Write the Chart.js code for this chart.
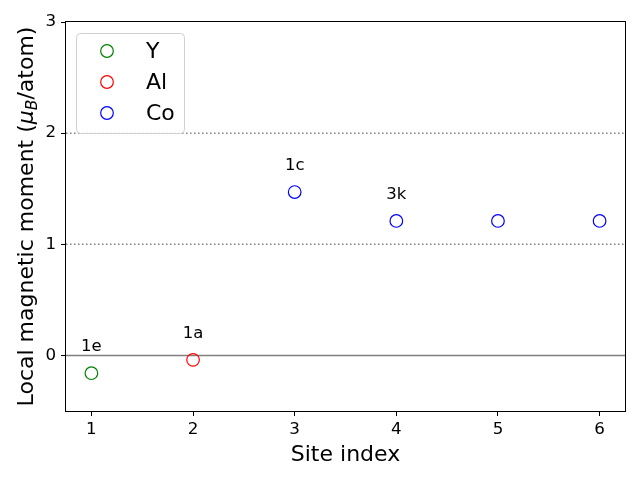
<!DOCTYPE html>
<html>
<head>
<meta charset="utf-8">
<script src="https://cdn.jsdelivr.net/npm/chart.js@4/dist/chart.umd.min.js"></script>
<style>
html,body{margin:0;padding:0;background:#fff;}
canvas{display:block;}
</style>
</head>
<body>
<canvas id="c" width="640" height="480"></canvas>
<script>
// ---- data ----
const siteIndex = [1, 2, 3, 4, 5, 6];
const moments = [-0.16, -0.04, 1.47, 1.21, 1.21, 1.21];
const species = ['Y', 'Al', 'Co', 'Co', 'Co', 'Co'];
const speciesNames = ['Y', 'Al', 'Co'];
const speciesColors = ['green', 'red', 'blue'];
const wyckoffSites = [1, 2, 3, 4];
const wyckoffLabels = ['1e', '1a', '1c', '3k'];
const xTicks = [1, 2, 3, 4, 5, 6];
const yTicks = [0, 1, 2, 3];
const dottedRefs = [1, 2];
const solidRef = 0;

const FONT = 'DejaVu Sans';

const datasets = speciesNames.map((name, k) => ({
  label: name,
  data: siteIndex.map((x, i) => ({x: x, y: moments[i], s: species[i]}))
                 .filter(p => p.s === name)
                 .map(p => ({x: p.x, y: p.y})),
  showLine: false,
  pointStyle: 'circle',
  pointRadius: 6.3,
  pointHoverRadius: 6.3,
  pointBorderWidth: 1.2,
  pointBackgroundColor: 'rgba(0,0,0,0)',
  pointBorderColor: speciesColors[k],
  borderColor: speciesColors[k],
  backgroundColor: 'rgba(0,0,0,0)'
}));

const refLines = {
  id: 'refLines',
  beforeDatasetsDraw(chart) {
    const ctx = chart.ctx, a = chart.chartArea, ys = chart.scales.y;
    ctx.save();
    ctx.strokeStyle = 'gray';
    ctx.lineWidth = 1.5;
    let py = ys.getPixelForValue(solidRef);
    ctx.beginPath(); ctx.moveTo(a.left, py); ctx.lineTo(a.right, py); ctx.stroke();
    ctx.setLineDash([1.5, 2.5]);
    dottedRefs.forEach(v => {
      const p = ys.getPixelForValue(v);
      ctx.beginPath(); ctx.moveTo(a.left, p); ctx.lineTo(a.right, p); ctx.stroke();
    });
    ctx.restore();
  },
  afterDraw(chart) {
    const ctx = chart.ctx, a = chart.chartArea, xs = chart.scales.x, ys = chart.scales.y;
    ctx.save();
    // frame
    ctx.strokeStyle = '#000';
    ctx.lineWidth = 1;
    ctx.strokeRect(Math.round(a.left) - 0.5, Math.round(a.top) - 0.5,
                   Math.round(a.right - a.left) + 1, Math.round(a.bottom - a.top) + 1);
    // annotations
    ctx.fillStyle = '#000';
    ctx.font = '16.5px "' + FONT + '"';
    ctx.textAlign = 'center';
    ctx.textBaseline = 'alphabetic';
    wyckoffSites.forEach((s, i) => {
      const idx = siteIndex.indexOf(s);
      const px = xs.getPixelForValue(s);
      const py = ys.getPixelForValue(moments[idx] + 0.2);
      ctx.fillText(wyckoffLabels[i], px, py);
    });
    // x title
    ctx.font = '22px "' + FONT + '"';
    ctx.fillText('Site index', (a.left + a.right) / 2, 461);
    // y title with subscript
    ctx.translate(33, (a.top + a.bottom) / 2);
    ctx.rotate(-Math.PI / 2);
    const parts = [
      {t: 'Local magnetic moment (', f: '22px "' + FONT + '"', dy: 0},
      {t: 'μ', f: 'italic 22px "' + FONT + '"', dy: 0},
      {t: 'B', f: 'italic 15.5px "' + FONT + '"', dy: 4},
      {t: '/atom)', f: '22px "' + FONT + '"', dy: 0}
    ];
    let total = 0;
    parts.forEach(p => { ctx.font = p.f; p.w = ctx.measureText(p.t).width; total += p.w; });
    let x0 = -total / 2;
    ctx.textAlign = 'left';
    parts.forEach(p => { ctx.font = p.f; ctx.fillText(p.t, x0, p.dy); x0 += p.w; });
    ctx.restore();

    // legend
    ctx.save();
    const lx = 76.5, ly = 33.5, lw = 108, lh = 100, r = 4;
    ctx.fillStyle = 'rgba(255,255,255,0.8)';
    ctx.strokeStyle = '#d0d0d0';
    ctx.lineWidth = 1;
    ctx.beginPath();
    ctx.moveTo(lx + r, ly);
    ctx.arcTo(lx + lw, ly, lx + lw, ly + lh, r);
    ctx.arcTo(lx + lw, ly + lh, lx, ly + lh, r);
    ctx.arcTo(lx, ly + lh, lx, ly, r);
    ctx.arcTo(lx, ly, lx + lw, ly, r);
    ctx.closePath();
    ctx.fill(); ctx.stroke();
    ctx.font = '22px "' + FONT + '"';
    ctx.textBaseline = 'middle';
    ctx.textAlign = 'left';
    chart.data.datasets.forEach((d, i) => {
      const cy = 51 + i * 31;
      ctx.strokeStyle = d.pointBorderColor;
      ctx.lineWidth = 1.2;
      ctx.beginPath(); ctx.arc(107, cy, 6.3, 0, Math.PI * 2); ctx.stroke();
      ctx.fillStyle = '#000';
      ctx.fillText(d.label, 146, cy + 1);
    });
    ctx.restore();
  }
};

new Chart(document.getElementById('c'), {
  type: 'scatter',
  data: {datasets: datasets},
  options: {
    responsive: false,
    animation: false,
    devicePixelRatio: 1,
    layout: {padding: {left: 0, right: 15, top: 22, bottom: 0}},
    plugins: {legend: {display: false}, tooltip: {enabled: false}, title: {display: false}},
    scales: {
      x: {
        type: 'linear', min: 0.75, max: 6.25,
        afterBuildTicks(s) { s.ticks = xTicks.map(v => ({value: v})); },
        afterFit(s) { s.height = 69; },
        ticks: {font: {family: FONT, size: 16.7}, color: '#000', padding: 4, maxRotation: 0, callback: v => String(v)},
        grid: {drawOnChartArea: false, drawTicks: true, tickLength: 5, color: '#000', tickWidth: 1},
        border: {display: false}
      },
      y: {
        type: 'linear', min: -0.5, max: 3,
        afterBuildTicks(s) { s.ticks = yTicks.map(v => ({value: v})); },
        afterFit(s) { s.width = 66; },
        ticks: {font: {family: FONT, size: 16.7}, color: '#000', padding: 5, callback: v => String(v)},
        grid: {drawOnChartArea: false, drawTicks: true, tickLength: 5, color: '#000', tickWidth: 1},
        border: {display: false}
      }
    }
  },
  plugins: [refLines]
});
</script>
</body>
</html>
